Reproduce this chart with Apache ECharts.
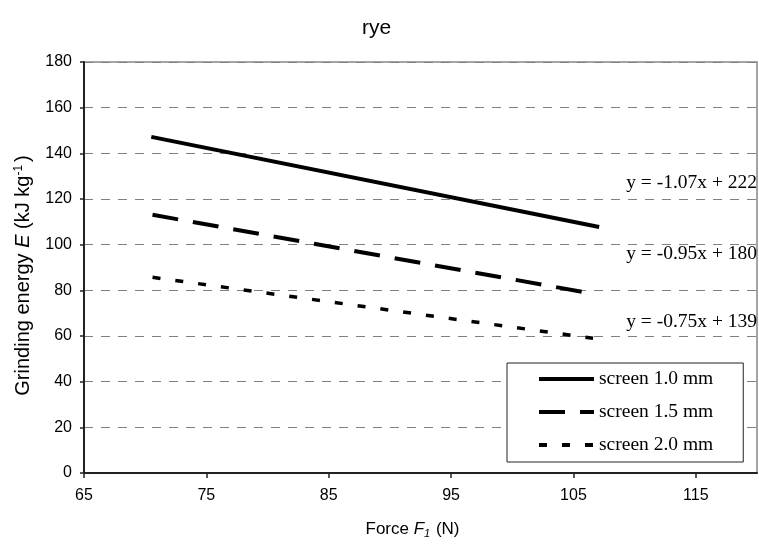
<!DOCTYPE html>
<html>
<head>
<meta charset="utf-8">
<title>rye</title>
<script src="https://cdn.jsdelivr.net/npm/echarts@6/dist/echarts.min.js"></script>
<style>
  html, body {
    margin: 0;
    padding: 0;
    background: #fff;
  }
  #chart {
    width: 759px;
    height: 544px;
  }
</style>
</head>
<body>
<div id="chart"></div>
<script>
  // values (end points of the three fitted lines)
  const screens = ['screen 1.0 mm', 'screen 1.5 mm', 'screen 2.0 mm'];
  const force10 = [70.5, 107.1];
  const energy10 = [147.2, 107.7];
  const force15 = [70.6, 106.6];
  const energy15 = [113.1, 78.5];
  const force20 = [70.6, 106.6];
  const energy20 = [85.7, 59.0];
  const xTicks = [65, 75, 85, 95, 105, 115];
  const equations = ['y = -1.07x + 222', 'y = -0.95x + 180', 'y = -0.75x + 139'];

  const sans = '"Liberation Sans", Arial, sans-serif';
  const serif = '"Liberation Serif", "Times New Roman", serif';

  function pairs(xs, ys) {
    return xs.map((x, i) => [x, ys[i]]);
  }

  let myChart = echarts.init(document.getElementById('chart'));
  let option = {
    animation: false,
    backgroundColor: '#fff',
    title: {
      text: 'rye',
      left: 357,
      top: 13,
      textStyle: {
        fontFamily: sans,
        fontSize: 21,
        fontWeight: 'normal',
        color: '#000'
      }
    },
    grid: {
      left: 84,
      right: 2,
      top: 62,
      bottom: 66,
      show: true,
      borderColor: '#888',
      borderWidth: 1.5
    },
    legend: {
      data: screens,
      orient: 'vertical',
      left: 507,
      top: 363,
      padding: [6, 30, 7, 30],
      itemWidth: 55,
      itemHeight: 20,
      itemGap: 13,
      backgroundColor: '#fff',
      borderColor: '#222',
      borderWidth: 1,
      // only the line sample, no marker dot
      itemStyle: {
        color: 'transparent',
        borderWidth: 0,
        opacity: 0
      },
      lineStyle: {
        width: 4
      },
      textStyle: {
        fontFamily: serif,
        fontSize: 19.5,
        lineHeight: 20,
        color: '#000'
      }
    },
    xAxis: {
      type: 'value',
      min: 65,
      max: 120,
      name: 'Force {i|F}{sub|1} (N)',
      nameLocation: 'middle',
      nameGap: 46,
      nameTextStyle: {
        fontFamily: sans,
        fontSize: 17,
        color: '#000',
        lineHeight: 20,
        padding: [0, 16, 0, 0],
        rich: {
          i: {fontFamily: sans, fontSize: 17, fontStyle: 'italic', color: '#000', lineHeight: 20},
          sub: {fontFamily: sans, fontSize: 11, fontStyle: 'italic', color: '#000', lineHeight: 11, verticalAlign: 'bottom', padding: [0, 1, 0, 0]}
        }
      },
      axisLine: {
        onZero: false,
        lineStyle: {color: '#222', width: 2}
      },
      axisTick: {
        show: true,
        length: 5,
        customValues: xTicks,
        lineStyle: {color: '#222', width: 1.5}
      },
      axisLabel: {
        customValues: xTicks,
        margin: 15,
        fontFamily: sans,
        fontSize: 16,
        color: '#000'
      },
      splitLine: {show: false}
    },
    yAxis: {
      type: 'value',
      min: 0,
      max: 180,
      interval: 20,
      name: 'Grinding energy {i|E} (kJ kg{sup|-1})',
      nameLocation: 'middle',
      nameRotate: 90,
      nameGap: 49,
      nameTextStyle: {
        fontFamily: sans,
        fontSize: 20,
        color: '#000',
        lineHeight: 22,
        padding: [0, 16, 0, 0],
        rich: {
          i: {fontFamily: sans, fontSize: 20, fontStyle: 'italic', color: '#000', lineHeight: 22},
          sup: {fontFamily: sans, fontSize: 12, color: '#000', lineHeight: 12, verticalAlign: 'top', padding: [0, 3, 0, 0]}
        }
      },
      axisLine: {
        show: true,
        lineStyle: {color: '#222', width: 2}
      },
      axisTick: {
        show: true,
        length: 4,
        lineStyle: {color: '#222', width: 1.5}
      },
      axisLabel: {
        margin: 12,
        fontFamily: sans,
        fontSize: 16,
        color: '#000'
      },
      splitLine: {
        show: true,
        lineStyle: {color: '#808080', width: 1, type: [9, 8]}
      }
    },
    series: [
      {
        name: screens[0],
        type: 'line',
        symbol: 'none',
        data: pairs(force10, energy10),
        lineStyle: {color: '#000', width: 4, type: 'solid'}
      },
      {
        name: screens[1],
        type: 'line',
        symbol: 'none',
        data: pairs(force15, energy15),
        lineStyle: {color: '#000', width: 4, type: [26, 15]}
      },
      {
        name: screens[2],
        type: 'line',
        symbol: 'none',
        data: pairs(force20, energy20),
        lineStyle: {color: '#000', width: 3.5, type: [8, 15]}
      }
    ],
    graphic: [
      {type: 'text', right: 2, top: 173, style: {text: equations[0], font: '19.5px ' + serif, fill: '#000'}},
      {type: 'text', right: 2, top: 244, style: {text: equations[1], font: '19.5px ' + serif, fill: '#000'}},
      {type: 'text', right: 2, top: 312, style: {text: equations[2], font: '19.5px ' + serif, fill: '#000'}}
    ]
  };
  myChart.setOption(option);
</script>
</body>
</html>
